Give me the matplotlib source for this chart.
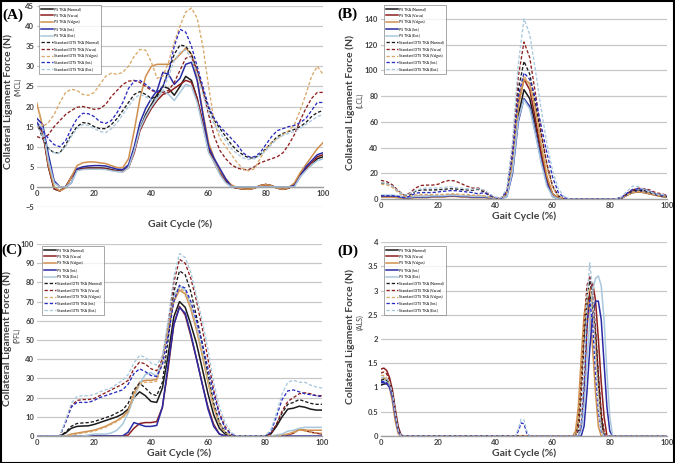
import matplotlib
matplotlib.use("Agg")
import matplotlib.pyplot as plt
from matplotlib.patches import Rectangle

plt.rcParams['font.family'] = ['Lato', 'DejaVu Sans']

# ---------------- data ----------------
X_STEP = list(range(0, 101, 2))

SERIES_LABELS = ["PS TKA (Normal)", "PS TKA (Varus)", "PS TKA (Valgus)", "PS TKA (Int.)", "PS TKA (Ext.)",
                 "Standard DTS TKA (Normal)", "Standard DTS TKA (Varus)", "Standard DTS TKA (Valgus)",
                 "Standard DTS TKA (Int.)", "Standard DTS TKA (Ext.)"]

# Panel A (MCL)
A_PS_NORMAL = [16, 14, 5, -0.5, -1, 0, 2.5, 4.3, 4.6, 4.7,
               4.7, 4.7, 4.6, 4.3, 4.0, 3.9, 5.0, 9.0, 14.5, 18,
               20.5, 23, 25, 24.5, 22.8, 25, 27.5, 26.5, 22, 15.5,
               9, 6.5, 3.5, 1.5, 0, -0.3, -0.5, -0.6, -0.3, 0.3,
               0.6, 0.3, -0.3, -0.6, -0.3, 0.5, 3, 4.5, 5.5, 7,
               7.5]
A_PS_VARUS = [15.5, 13.5, 5, -0.5, -1, 0, 2.3, 4.2, 4.5, 4.6,
              4.6, 4.6, 4.5, 4.2, 3.9, 3.8, 4.8, 8.5, 14, 17,
              19.5, 21.5, 23, 23.5, 24.5, 25.5, 26.5, 26, 22, 16,
              9.5, 6, 3.3, 1.3, 0, -0.3, -0.5, -0.6, -0.3, 0.3,
              0.6, 0.3, -0.3, -0.6, -0.3, 0.5, 3, 4.5, 6, 7.5,
              8]
A_PS_VALGUS = [20.5, 15, 5.5, 0, -1, -0.3, 2.5, 5.3, 6, 6.2,
               6.2, 6, 5.8, 5.3, 4.8, 4.8, 7, 14, 22, 27.5,
               30, 30.5, 30.5, 30.5, 31.5, 33, 34.5, 33, 27, 18.5,
               11, 7, 4, 2, 0.5, -0.2, -0.5, -0.6, -0.3, 0.3,
               0.6, 0.3, -0.3, -0.6, -0.2, 1, 3.5, 5.5, 7.5, 9.5,
               11]
A_PS_INT = [17, 15.5, 8, 1.5, 0, 0, 1, 4.5, 5, 5.2,
            5.3, 5.3, 5.2, 4.8, 4.4, 4.3, 5.5, 10, 16, 19.5,
            22, 24, 28.5, 28, 25.5, 27, 30.5, 31, 26.5, 18,
            10, 7, 4.5, 2, 0, 0, 0, 0, 0, 0,
            0, 0, 0, 0, 0, 0.3, 2.5, 5, 6.5, 8,
            8.5]
A_PS_EXT = [16, 14.5, 6.5, 1, 0, 0, 1, 4, 4.3, 4.4,
            4.4, 4.4, 4.3, 4.0, 3.8, 3.7, 4.8, 9, 14.5, 17.5,
            20, 22, 24, 23, 21.5, 23.5, 25.5, 25, 21, 15,
            8.5, 6, 3, 1, 0, 0, 0, 0, 0, 0,
            0, 0, 0, 0, 0, 0, 2.5, 4, 5.5, 6.5,
            7]
A_STD_NORMAL = [16, 12, 9.5, 8.5, 8.5, 10.5, 13, 15, 16, 15.8,
                15, 14.5, 14.5, 15.5, 17, 19, 21, 23, 23.7, 23,
                22, 22.5, 25, 29, 33, 35.3, 35, 33, 29, 24,
                19.5, 16.5, 14.5, 12.5, 10.5, 9, 8, 7.2, 7.2, 8,
                9.5, 11, 12.5, 13.3, 13.8, 14.3, 15, 16, 17.5, 18.5,
                19]
A_STD_VARUS = [12.5, 12, 13, 15, 16.5, 18, 19, 19.8, 20, 19.7,
               19.3, 19.5, 20.5, 22.5, 24, 25.5, 26.3, 26.5, 26, 25,
               24, 23.5, 23.5, 24, 26, 29, 32, 32.5, 29, 24,
               18, 12.5, 9, 7, 5.5, 4.7, 4.3, 4.3, 5, 6,
               6.5, 7, 7.5, 8.5, 10.5, 13, 16.5, 19.5, 22, 23.5,
               23.5]
A_STD_VALGUS = [21, 15, 16, 18, 21, 23.5, 24.3, 24, 23, 22.8,
                23.5, 25.5, 27.5, 28.3, 28, 28.5, 30, 32.5, 34.2, 34,
                31, 27, 27.5, 31, 36, 40, 43.5, 44.5, 42, 35,
                25, 16, 12, 10, 8, 6, 4.5, 4, 4.5, 7,
                9.5, 11, 12, 13, 14, 15.5, 19, 23, 27.5, 30,
                28]
A_STD_INT = [16, 14, 12, 10.5, 10, 11.5, 14.5, 17, 18.3, 18.2,
             17.5, 16.2, 15.8, 16.5, 18.5, 21, 24.5, 26.3, 26.5, 25.5,
             24.3, 23.5, 25, 28.5, 35, 39.2, 38.5, 35, 30, 25,
             20, 17, 15, 13.5, 12, 10.5, 8.5, 7.5, 7.5, 8.5,
             10.5, 12.5, 14, 14.5, 15, 15.3, 16, 17, 19, 21,
             21]
A_STD_EXT = [15.5, 12.5, 9.5, 8.5, 8.5, 10, 12.5, 14.5, 15.5, 15.3,
             14.5, 13.8, 13.5, 14.5, 16, 18, 20, 22, 23, 22.5,
             21.5, 22, 24, 27.5, 31.5, 33.5, 34, 32, 28, 23,
             18.5, 15.5, 13.5, 11.5, 9.5, 8.2, 7.2, 6.8, 7, 7.8,
             9, 10.5, 12, 12.8, 13.3, 13.8, 14.5, 15.5, 16.5, 17.5,
             18]

# Panel B (LCL)
B_PS_NORMAL = [2, 2, 2, 1.5, 1, 1, 1.5, 1.5, 1.5, 2,
               2, 2, 2.5, 2.5, 2, 2, 1.5, 1.5, 1.5, 1,
               0.5, 0, 3, 25, 65, 85, 78, 58, 35, 16,
               4, 0.5, 0, 0, 0, 0, 0, 0, 0, 0,
               0, 0, 0.5, 3, 5, 5.5, 5, 4, 3, 2,
               1.5]
B_PS_VARUS = [2.5, 2.5, 2.5, 2, 1.5, 1.5, 2, 2, 2, 2.5,
              2.5, 2.5, 3, 3, 2.5, 2.5, 2, 2, 2, 1.5,
              0.5, 0, 4, 30, 75, 93, 85, 62, 36, 15,
              3, 0, 0, 0, 0, 0, 0, 0, 0, 0,
              0, 0, 0.5, 3.5, 6, 6.5, 6, 5, 3.5, 2.5,
              2]
B_PS_VALGUS = [1.5, 1.5, 1.5, 1, 0.5, 0.5, 1, 1, 1, 1.5,
               1.5, 1.5, 2, 2, 1.5, 1.5, 1, 1, 1, 0.5,
               0, 0, 3, 27, 72, 93, 90, 70, 42, 18,
               4, 0.5, 0, 0, 0, 0, 0, 0, 0, 0,
               0, 0, 0.5, 3, 5, 5.5, 5, 4, 3, 2,
               1.5]
B_PS_INT = [2.5, 2.5, 2.5, 2, 1, 1, 1.5, 1.5, 1.5, 2,
            2, 2, 2.5, 2.5, 2, 2, 1.5, 1.5, 1.5, 1,
            0.5, 0, 2, 20, 60, 78, 72, 52, 30, 12,
            2, 0, 0, 0, 0, 0, 0, 0, 0, 0,
            0, 0, 0.5, 3.5, 6, 6.5, 6, 5, 3.5, 2.5,
            2]
B_PS_EXT = [3, 3, 3, 2.5, 1.5, 1.5, 2, 2, 2, 2.5,
            2.5, 2.5, 3, 3, 2.5, 2.5, 2, 2, 2, 1.5,
            0.5, 0, 2, 22, 62, 77, 70, 50, 28, 10,
            2, 0, 0, 0, 0, 0, 0, 0, 0, 0,
            0, 0, 1, 4, 7, 7.5, 7, 5.5, 4, 3,
            2.5]
B_STD_NORMAL = [12.5, 12, 10, 6, 3, 3, 6, 7, 7, 7,
                7.2, 7.5, 8, 7.8, 7.3, 7, 6.8, 7.5, 5.5, 2.5,
                1, 0.5, 6, 35, 85, 107, 97, 75, 50, 27,
                10, 2.5, 0, 0, 0, 0, 0, 0, 0, 0,
                0, 0, 1, 4, 6.5, 7, 6.5, 5, 3.5, 2.5,
                2]
B_STD_VARUS = [14.5, 13.5, 11, 6.5, 3, 4.5, 8.5, 10.5, 10.8, 10.8,
               11.5, 13.5, 14.5, 14, 12, 10, 8.5, 8.5, 6.5, 3,
               1, 0.5, 7, 40, 95, 122, 110, 82, 52, 27,
               10, 2, 0, 0, 0, 0, 0, 0, 0, 0,
               0, 0, 1, 4, 7, 8.5, 8, 7, 5, 4,
               3]
B_STD_VALGUS = [11.5, 11, 9, 5, 2, 2, 3, 3.5, 3.5, 3.5,
                3.5, 3.5, 4, 4, 3.5, 3.5, 3, 3, 2.5, 1.5,
                0.5, 0, 5, 32, 78, 96, 88, 68, 45, 24,
                9, 2, 0, 0, 0, 0, 0, 0, 0, 0,
                0, 0, 0.5, 3, 5.5, 6, 5.5, 4.5, 3, 2.5,
                2]
B_STD_INT = [2.5, 2.5, 2.5, 2, 1, 2, 4.5, 5, 5, 5,
             5.5, 6, 6.5, 6.5, 6, 5.5, 5, 4, 5, 3,
             1, 0.5, 6, 35, 80, 98, 93, 78, 57, 36,
             17, 5, 1, 0, 0, 0, 0, 0, 0, 0,
             0, 0, 1, 4.5, 7.5, 8, 7.5, 6, 4, 3,
             2.5]
B_STD_EXT = [13, 12, 10, 6, 3, 4, 6.5, 8, 8.5, 8.5,
             8.5, 9, 9.5, 9, 8.5, 8, 7.5, 8, 7, 4,
             1.5, 1, 8, 45, 105, 140, 128, 100, 70, 43,
             22, 8, 2, 0, 0, 0, 0, 0, 0, 0,
             0, 0, 1.5, 6, 10, 9.5, 7.5, 5.5, 4, 3.5,
             3]

# Panel C (PFL)
C_PS_NORMAL = [0, 0, 0, 0, 0, 1.5, 4, 5, 5.2, 5.3,
               6, 7, 8, 9, 10, 11.5, 14, 20, 23, 21,
               18, 17.5, 25, 42, 62, 70, 67, 58, 48, 35,
               22, 11, 4, 1, 0, 0, 0, 0, 0, 0,
               0, 1, 5, 10, 14, 14.5, 15.5, 15, 14, 13.5,
               13.5]
C_PS_VARUS = [0, 0, 0, 0, 0, 0, 0, 0, 0, 0,
              0, 0, 0, 0, 0, 0, 0.5, 4, 6.5, 7,
              7, 7.5, 15, 35, 58, 67.5, 63, 52, 40, 27,
              15, 6, 1, 0, 0, 0, 0, 0, 0, 0,
              0, 0, 0, 0, 0.5, 1.5, 3.5, 3, 2, 1.5,
              1]
C_PS_VALGUS = [0, 0, 0, 0, 0, 0, 1, 1.5, 2, 2.5,
               3, 4, 5, 6.5, 8, 10, 13, 22, 28, 29,
               29, 29.5, 40, 55, 70, 76, 74, 66, 55, 42,
               28, 15, 6, 2, 0, 0, 0, 0, 0, 0,
               0, 0, 0, 0.5, 1, 2, 3.5, 3, 3, 3,
               3]
C_PS_INT = [0, 0, 0, 0, 0, 0, 0, 0, 0, 0,
            0, 0, 0, 0, 0, 0, 2, 7, 6, 5,
            5, 5.5, 15, 37, 58, 67, 64, 53, 40, 27,
            14, 5, 1, 0, 0, 0, 0, 0, 0, 0,
            0, 0, 0, 0, 0, 0, 0, 0, 0, 0,
            0]
C_PS_EXT = [0, 0, 0, 0, 0, 0, 0, 0, 0, 0.5,
            1, 1, 1, 1.5, 3, 6, 12, 20, 27, 32,
            33, 31, 40, 58, 73, 78, 76, 68, 57, 44,
            30, 17, 7, 2, 0, 0, 0, 0, 0, 0,
            0, 0, 0.5, 1, 2.5, 3, 4, 4.5, 4.5, 4.5,
            4.5]
C_STD_NORMAL = [0, 0, 0, 0, 0, 2, 5, 6.5, 6.8, 7,
                7.5, 8.5, 9.5, 10.5, 12, 13.5, 17, 24, 27.5, 25,
                22, 21, 28, 50, 75, 86, 84, 75, 62, 48,
                32, 17, 7, 2, 0, 0, 0, 0, 0, 0,
                0, 1, 6, 12, 16.5, 17.5, 19, 18, 17, 16.5,
                16.5]
C_STD_VARUS = [0, 0, 0, 0, 0, 7, 15.5, 18.5, 19, 19,
               19.5, 21, 22.5, 24, 25.5, 27, 29, 35, 38.5, 37.5,
               35, 34, 40, 58, 80, 92, 90, 82, 70, 56,
               40, 24, 12, 5, 1, 0, 0, 0, 0, 0,
               0, 1, 6, 13, 18, 20, 22, 22.5, 22, 21,
               21]
C_STD_VALGUS = [0, 0, 0, 0, 0, 0, 0.5, 1, 1.5, 2,
                2.5, 3.5, 4.5, 6, 7.5, 9.5, 12.5, 21, 27, 28,
                28, 28.5, 39, 56, 71, 77, 75, 67, 56, 43,
                29, 16, 7, 2, 0, 0, 0, 0, 0, 0,
                0, 0, 0, 0.5, 1, 1.5, 3, 2.5, 2, 1.5,
                1.5]
C_STD_INT = [0, 0, 0, 0, 0, 7, 15, 17.5, 17.5, 17.5,
             18.5, 20, 21, 22, 23, 24, 27, 32.5, 35, 33.5,
             31.5, 31, 37, 52, 70, 78.5, 77, 70, 60, 48,
             35, 22, 11, 4, 1, 0, 0, 0, 0, 0,
             0, 2, 10, 19, 23.5, 24, 23, 22, 21.5, 21,
             20.5]
C_STD_EXT = [0, 0, 0, 0, 0, 8, 17, 20.5, 21, 21,
             21.5, 23, 24, 25, 27, 29, 32, 38, 42, 41,
             38, 37, 42, 60, 83, 95, 93, 85, 73, 60,
             45, 28, 15, 7, 2, 0, 0, 0, 0, 0,
             0, 3, 12, 22, 28, 29, 28, 28, 26.5, 25.5,
             25]

# Panel D (ALS)
D_X = [0, 1, 2, 3, 4, 5, 6, 7, 8,
       46, 47, 48, 49, 50, 51, 52,
       66, 67, 68, 69, 70, 71, 72, 73, 74, 75, 76, 77, 78, 79, 80, 81, 82,
       100]
D_PS_NORMAL = [1.05, 1.07, 1.08, 1.05, 0.85, 0.4, 0.1, 0, 0,
               0, 0, 0, 0, 0, 0, 0,
               0, 0, 0, 0.3, 1.2, 2.1, 2.7, 2.9, 2.7, 2.1, 1.2, 0.4, 0, 0, 0, 0, 0,
               0]
D_PS_VARUS = [1.38, 1.4, 1.35, 1.2, 0.95, 0.55, 0.2, 0.02, 0,
              0, 0, 0, 0, 0, 0, 0,
              0, 0, 0, 0, 0.2, 1.0, 2.2, 3.0, 3.15, 2.8, 2.0, 1.1, 0.4, 0, 0, 0, 0,
              0]
D_PS_VALGUS = [1.2, 1.2, 1.15, 1.0, 0.7, 0.3, 0.05, 0, 0,
               0, 0, 0, 0, 0, 0, 0,
               0, 0, 0.1, 0.6, 1.6, 2.5, 2.85, 2.6, 1.8, 0.9, 0.2, 0, 0, 0, 0, 0, 0,
               0]
D_PS_INT = [1.1, 1.1, 1.08, 1.0, 0.8, 0.4, 0.1, 0, 0,
            0, 0, 0, 0, 0, 0, 0,
            0, 0, 0, 0, 0, 0.2, 0.9, 1.8, 2.5, 2.78, 2.78, 2.4, 1.5, 0.6, 0.1, 0, 0,
            0]
D_PS_EXT = [1.15, 1.16, 1.12, 1.05, 0.85, 0.45, 0.12, 0, 0,
            0, 0, 0, 0, 0, 0, 0,
            0, 0, 0, 0, 0.1, 0.6, 1.5, 2.4, 3.0, 3.25, 3.3, 3.1, 2.4, 1.3, 0.4, 0, 0,
            0]
D_STD_NORMAL = [1.15, 1.17, 1.15, 1.1, 0.9, 0.5, 0.15, 0, 0,
                0, 0, 0, 0, 0, 0, 0,
                0, 0, 0, 0.1, 0.8, 2.0, 2.9, 3.2, 2.9, 2.1, 1.1, 0.4, 0, 0, 0, 0, 0,
                0]
D_STD_VARUS = [1.3, 1.32, 1.28, 1.15, 0.9, 0.5, 0.15, 0, 0,
               0, 0, 0, 0, 0, 0, 0,
               0, 0, 0, 0.2, 1.0, 2.3, 3.1, 3.3, 3.0, 2.2, 1.3, 0.5, 0.1, 0, 0, 0, 0,
               0]
D_STD_VALGUS = [1.25, 1.25, 1.2, 1.05, 0.8, 0.4, 0.1, 0, 0,
                0, 0, 0, 0, 0, 0, 0,
                0, 0, 0, 0.3, 1.2, 2.3, 2.9, 3.05, 2.6, 1.8, 0.9, 0.2, 0, 0, 0, 0, 0,
                0]
D_STD_INT = [1.12, 1.12, 1.1, 1.02, 0.82, 0.42, 0.1, 0, 0,
             0, 0, 0.1, 0.27, 0.25, 0.05, 0,
             0, 0, 0, 0, 0.2, 1.0, 2.3, 2.8, 2.3, 1.3, 0.5, 0.1, 0, 0, 0, 0, 0,
             0]
D_STD_EXT = [1.2, 1.22, 1.18, 1.1, 0.88, 0.48, 0.12, 0, 0,
             0, 0, 0.15, 0.35, 0.33, 0.1, 0,
             0, 0, 0, 0, 0.3, 1.3, 2.8, 3.57, 3.0, 1.7, 0.6, 0.1, 0, 0, 0, 0, 0,
             0]

# ---------------- styles ----------------
COLORS = ['#1a1a1a', '#8e1f1f', '#cf8f4e', '#2b2ba6', '#a9c8dd',
          '#1a1a1a', '#8e1f1f', '#d9a96a', '#2b2bc0', '#a9c8dd']
STYLES = ['-'] * 5 + ['--'] * 5

W, H = 675, 463
fig = plt.figure(figsize=(W / 100, H / 100), dpi=100)


def px_axes(l, r, t, b):
    return fig.add_axes([l / W, 1 - b / H, (r - l) / W, (b - t) / H])


def style_axis(ax, xlim, ylim, yticks, zero_axis=False):
    ax.set_xlim(*xlim)
    ax.set_ylim(*ylim)
    ax.set_yticks(yticks)
    ax.set_xticks([0, 20, 40, 60, 80, 100])
    ax.grid(axis='y', color='#c8c8c8', lw=0.9)
    ax.set_axisbelow(True)
    for s in ['top', 'right', 'left']:
        ax.spines[s].set_visible(False)
    ax.spines['bottom'].set_color('#a0a0a0')
    ax.spines['bottom'].set_linewidth(1.0)
    if zero_axis:
        ax.spines['bottom'].set_position(('data', 0))
    ax.tick_params(axis='both', length=0, labelsize=5.5, labelcolor='#404040', pad=2)
    for lab in ax.get_xticklabels() + ax.get_yticklabels():
        lab.set_fontweight('bold')


def draw(ax, x, series):
    handles = []
    for ys, c, ls, lab in zip(series, COLORS, STYLES, SERIES_LABELS):
        if ls == '-':
            h, = ax.plot(x, ys, color=c, lw=1.1, ls='-', label=lab)
        else:
            h, = ax.plot(x, ys, color=c, lw=0.95, ls=(0, (2.5, 1.5)), label=lab)
        handles.append(h)
    return handles


def legend(ax, handles, lx, ty):
    leg = fig.legend(handles=handles, loc='upper left', bbox_to_anchor=(lx / W, 1 - ty / H),
                     fontsize=2.6, frameon=True, fancybox=False, handlelength=3.2,
                     labelspacing=0.75, borderpad=0.6, handletextpad=0.5)
    leg.get_frame().set_edgecolor('#808080')
    leg.get_frame().set_linewidth(0.6)


def ylabels(x_main, y_main, x_sub, y_sub, sub):
    fig.text(x_main / W, 1 - y_main / H, "Collateral Ligament Force (N)", rotation=90,
             ha='center', va='center', fontsize=7.5, fontweight='bold', color='#404040')
    fig.text(x_sub / W, 1 - y_sub / H, sub, rotation=90,
             ha='center', va='center', fontsize=5, color='#404040')


def panel_letter(x, y, s):
    fig.text(x / W, 1 - y / H, s, ha='left', va='center', fontsize=11,
             fontweight='bold', family='Liberation Serif')


# Panel A
axA = px_axes(37, 323, 6, 207)
hA = draw(axA, X_STEP, [A_PS_NORMAL, A_PS_VARUS, A_PS_VALGUS, A_PS_INT, A_PS_EXT,
                        A_STD_NORMAL, A_STD_VARUS, A_STD_VALGUS, A_STD_INT, A_STD_EXT])
style_axis(axA, (0, 100), (-5, 45), list(range(-5, 46, 5)), zero_axis=True)
axA.set_xlabel("Gait Cycle (%)", fontsize=7.5, fontweight='bold', color='#404040')
axA.xaxis.set_label_coords(0.5, -0.06)
legend(axA, hA, 37, 3)
ylabels(8, 101, 18, 87, "(MCL)")
panel_letter(2, 15, "(A)")

# Panel B
axB = px_axes(381, 667, 6, 199)
hB = draw(axB, X_STEP, [B_PS_NORMAL, B_PS_VARUS, B_PS_VALGUS, B_PS_INT, B_PS_EXT,
                        B_STD_NORMAL, B_STD_VARUS, B_STD_VALGUS, B_STD_INT, B_STD_EXT])
style_axis(axB, (0, 100), (0, 150), list(range(0, 141, 20)))
axB.set_xlabel("Gait Cycle (%)", fontsize=7.5, fontweight='bold', color='#404040', labelpad=2)
legend(axB, hB, 382, 3)
ylabels(350, 102, 360, 100, "(LCL)")
panel_letter(337, 14, "(B)")

# Panel C
axC = px_axes(37, 322, 244, 436)
hC = draw(axC, X_STEP, [C_PS_NORMAL, C_PS_VARUS, C_PS_VALGUS, C_PS_INT, C_PS_EXT,
                        C_STD_NORMAL, C_STD_VARUS, C_STD_VALGUS, C_STD_INT, C_STD_EXT])
style_axis(axC, (0, 100), (0, 100), list(range(0, 101, 10)))
axC.set_xlabel("Gait Cycle (%)", fontsize=7.5, fontweight='bold', color='#404040', labelpad=2)
legend(axC, hC, 40, 244)
ylabels(7, 338, 17, 335, "(PFL)")
panel_letter(1, 250, "(C)")

# Panel D
axD = px_axes(381, 667, 242, 436)
hD = draw(axD, D_X, [D_PS_NORMAL, D_PS_VARUS, D_PS_VALGUS, D_PS_INT, D_PS_EXT,
                     D_STD_NORMAL, D_STD_VARUS, D_STD_VALGUS, D_STD_INT, D_STD_EXT])
style_axis(axD, (0, 100), (0, 4), [0, 0.5, 1, 1.5, 2, 2.5, 3, 3.5, 4])
axD.set_yticklabels(['0', '0.5', '1', '1.5', '2', '2.5', '3', '3.5', '4'])
for lab in axD.get_yticklabels():
    lab.set_fontweight('bold')
axD.set_xlabel("Gait Cycle (%)", fontsize=7.5, fontweight='bold', color='#404040', labelpad=2)
legend(axD, hD, 382, 244)
ylabels(350, 337, 360, 322, "(ALS)")
panel_letter(337, 251, "(D)")

# outer frame
fig.patches.append(Rectangle((0.001, 0.001), 0.998, 0.997, transform=fig.transFigure,
                             fill=False, edgecolor='black', lw=1.5))

fig.savefig("out.png", dpi=100)
